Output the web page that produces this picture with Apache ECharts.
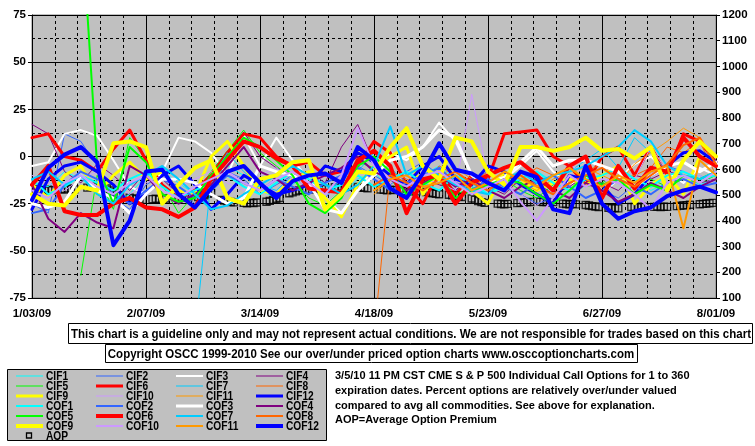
<!DOCTYPE html>
<html><head><meta charset="utf-8">
<script src="https://cdn.jsdelivr.net/npm/echarts@6/dist/echarts.min.js"></script>
<style>html,body{margin:0;padding:0;background:#fff}#c{width:755px;height:446px}</style>
</head><body><div id="c"></div>
<script>
// ---- data ----
const days = [0,5,10,15,20,25,30,35,40,45,50,55,60,65,70,75,80,85,90,95,100,105,110,115,120,125,130,135,140,145,150,155,160,165,170,175,180,185,190,195,200,205,210];
const dateLabels = ['1/03/09','2/07/09','3/14/09','4/18/09','5/23/09','6/27/09','8/01/09'];
const seriesNames = ['CIF1','CIF2','CIF3','CIF4','CIF5','CIF6','CIF7','CIF8','CIF9','CIF10','CIF11','CIF12',
                     'COF1','COF2','COF3','COF4','COF5','COF6','COF7','COF8','COF9','COF10','COF11','COF12'];
const n = null;
const CIF1 = [-14,-16,-8,-12,-18, -25,-20,-10,-8,-14, -20,-12,-5,-10,-18, -22,-15,-8,-14,-20, -12,-8,-18,-20,-10, -5,-12,-16,-20,-14, -8,-12,-18,-22,-15, -10,-5,-12,-18,-14, -10,-15,-12];
const CIF2 = [-25,-30,12,8,-5, -22,-28,-15,-10,-18, -25,-15,-8,-12,-20, -15,-10,-18,-22,-12, -5,-10,-15,-8,-3, -10,-18,-12,-8,-15, -20,-25,-22,-15,-10, -18,-22,-15,-10,-5, -8,-12,-10];
const CIF3 = [-5,-3,12,14,11, -2,-16,-20,-8,10, 8,2,-10,11,-5, 10,-2,-12,-22,-30, -18,-6,2,-2,5, 18,8,-10,-16,-12, -5,3,-8,-15,-10, -20,-12,-4,0,-8, -14,-6,-10];
const CIF4 = [17,12,-8,-14,-4, -10,-18,-8,-12,-20, -22,-15,2,13,0, -6,-10,-8,-14,5, 17,-4,-10,-14,-12, -15,-18,-10,-16,-20, -12,-14,-20,-16,-10, -14,-18,-10,-12,-8, -10,-14,-12];
const CIF5 = [n,n,n,-63,-10, -28,10,-2,-15,-30, -20,-8,3,14,2, -5,-12,-22,-26,-18, -3,-6,-12,-22,-16, -14,-20,-17,-14,-12, -18,-22,-15,-12,-16, -14,-10,-15,-12,-16, -12,-14,-10];
const CIF6 = [10,12,0,-2,-8, 4,14,-2,-15,-22, -18,-10,2,12,10, 0,-5,-3,-10,-8, -5,8,2,-15,-25, -8,-20,-10,-12,12, 13,14,0,-5,-15, 0,5,-10,5,-10, 12,8,-3];
const CIF7 = [n,n,n,n,n, n,n,n,n,n, -95,-12,2,-8,-15, -18,-10,-14,-20,-12, -8,2,-6,-14,-18, -12,-8,-16,-20,-10, -4,-10,-14,-8,-2, 4,-6,10,2,-8, -12,-10,-14];
const CIF8 = [n,n,n,n,n, n,n,n,n,n, n,n,n,n,n, n,n,n,n,n, n,-95,-8,-12,-15, -5,-10,-14,-8,-18, -12,-6,-10,-15,-8, -4,-12,-10,-6,5, 2,8,-10];
const CIF9 = [-15,-22,-10,-5,-20, -10,-3,-12,-8,-18, -20,0,8,-5,-18, -20,-12,-8,-22,-32, -15,-5,0,5,-20, -8,-15,-18,-25,-8, -12,-18,-14,-12,-15, -10,-5,-25,-15,-10, -20,0,-5];
const CIF10 = [-10,-14,-18,-12,-8, -15,-20,-14,-10,-16, -12,-8,-14,-18,-10, -6,-12,-16,-10,-14, -8,-12,-14,-10,-12, -14,-18,33,-12,-16, -20,-26,-18,-4,-10, -15,-8,-12,5,-8, -12,-10,-14];
const CIF11 = [n,n,n,n,n, n,n,n,n,n, n,n,n,n,n, n,n,n,n,n, n,-20,-12,-8,-14, -10,-6,-12,-16,-10, -14,-18,-12,-8,-6, -10,-14,-4,2,8, 15,10,-6];
const CIF12 = [-28,-12,-5,-3,-8, -15,-25,-20,-10,-5, -15,-28,-20,-10,-15, -20,-18,-15,-5,-8, 2,-3,-10,-15,-5, 0,-12,-15,-5,-8, -15,-20,-25,-10,-12, -15,-25,-20,-10,-5, 2,3,-3];
const COF1 = [-12,-20,-16,-10,-14, -18,-12,-8,-16,-22, -18,-14,-10,-16,-20, -14,-8,-12,-18,-15, -10,-16,-12,-8,-14, -18,-10,-14,-20,-16, -12,-8,-14,-18,-12, -10,-6,-12,-16,-10, -8,-12,-10];
const COF2 = [-30,-28,-15,-8,-12, -20,-25,-18,-12,-16, -22,-18,-10,-14,-18, -12,-16,-20,-14,-10, -6,-12,-18,-14,-10, -6,-14,-18,-12,-16, -20,-14,-10,-16,-22, -18,-12,-16,-20,-14, -12,-16,-14];
const COF3 = [-25,-27,-24,-10,-18, -22,-30,-20,-12,-12, -14,-20,-25,-22,-5, -8,-10,-14,-28,-30, -18,-10,-2,0,5, 14,10,-10,-14,-11, -3,5,-5,-2,-2, -5,-8,-16,-10,-5, -3,-8,-3];
const COF4 = [-15,-33,-40,-30,-35, -38,-5,-10,-20,-25, -20,-15,-5,5,-8, -12,-18,-14,-10,-6, 0,-8,-12,-18,-14, -10,-16,-12,-18,-22, -16,-12,-18,-22,-14, -18,-24,-20,-14,-18, -22,-16,-12];
const COF5 = [n,n,n,130,-5, -25,5,-3,-20,-24, -22,-10,0,10,5, -2,-10,-25,-30,-22, -5,0,-8,-20,-15, -10,-22,-18,-15,-12, -14,-20,-25,-18,-10, -15,-12,-20,-15,-18, -10,-12,-8];
const COF6 = [-15,-5,-29,-31,-31, -25,-22,-27,-28,-32, -27,-12,-2,8,5, -1,-5,-17,-18,-19, -2,3,-5,-30,-12, -10,-25,-14,-10,-6, -3,-10,-18,-5,0, -22,-5,-17,-6,-8, 10,0,-5];
const COF7 = [-12,-8,-15,-10,-20, -25,-15,-10,-5,-12, -20,-28,-26,-20,-15, -10,-5,-10,-15,-20, -15,-5,16,-10,-5, -10,-15,-18,-20,-12, -8,-14,-10,-8,-5, 0,5,14,8,-5, -10,-12,-8];
const COF8 = [n,n,n,n,n, n,n,n,n,n, n,n,n,n,n, n,n,n,n,n, n,-15,-10,-14,-18, -12,-8,-14,-18,-12, -10,-16,-20,-14,-10, -6,-12,-16,-10,-4, 6,10,-4];
const COF9 = [-20,-25,-26,-16,-18, 7,8,5,-25,-15, -6,-2,-22,-25,-12, -10,-3,-2,-28,-20, -8,-9,5,15,-5, -12,10,8,-8,-15, 5,5,3,5,10, 3,4,-1,5,-18, -2,8,0];
const COF10 = [-18,-22,-14,-10,-16, -20,-14,-10,-18,-22, -16,-12,-8,-14,-18, -12,-8,-14,-20,-10, 15,-5,-12,-16,-10, -8,-14,-20,-16,-12, -24,-34,-22,-10,-16, -12,-14,-20,-28,-14, -10,-14,-8];
const COF11 = [n,n,n,n,n, n,n,n,n,n, n,n,n,n,n, n,n,n,n,n, n,-18,-12,-10,-16, -14,-10,-18,-14,-8, -12,-16,-10,-6,-12, -16,-10,-14,-8,-5, -38,-2,-10];
const COF12 = [-23,-6,1,5,-3, -47,-34,-8,-7,-20, -27,-17,-8,-5,-14, -22,-13,-10,-9,-14, 5,-2,-17,-22,-9, 7,-7,-9,-14,-18, -8,-11,-28,-30,-5, -25,-33,-29,-27,-21, -18,-16,-19];
const seriesValues = [CIF1,CIF2,CIF3,CIF4,CIF5,CIF6,CIF7,CIF8,CIF9,CIF10,CIF11,CIF12,
                      COF1,COF2,COF3,COF4,COF5,COF6,COF7,COF8,COF9,COF10,COF11,COF12];
// Average option premium, one value per weekday (Mon..Fri), weeks starting 1/05/09
const aopWeeks = [
 [-17.5,-17.8,-18,-17.6,-17.9],[-17.2,-17.5,-17,-17.3,-17.4],[n,-16.5,-16,-16.2,-16.4],[-17,-18,-19,-20,-20.5],
 [-21.8,-22.2,-22.5,-22.8,-23],[-22.6,-22.4,-22.8,-22.5,-22.3],[n,-22,-21.8,-21.5,-21.2],[-21.5,-21,-20.5,-19.8,-19.3],
 [-23,-23.4,-23.8,-24.1,-24.3],[-24.6,-24.8,-24.5,-24.7,-24.4],[-24,-23.5,-23,-22.4,-22],[-19.5,-19,-18.5,-18,-17.7],
 [-17.4,-17.2,-17,-17.3,-17.1],[-16.3,-16.1,-16,-16.2,-16.1],[-16.2,-16.4,-16.6,-16.8,n],[-17.5,-17.7,-17.9,-17.6,-17.8],
 [-18.1,-18.3,-18.4,-18.2,-18.5],[-18.8,-19.2,-19.5,-19.8,-20],[-20.3,-20.6,-20.9,-21.2,-21.5],[-22.3,-23,-23.6,-24.2,-24.6],
 [n,-25,-25.2,-25.3,-25.1],[-24.7,-24.5,-24.3,-24.2,-24.1],[-24,-24.2,-24.1,-24.3,-24.2],[-25,-25.2,-25.3,-25.1,-25.4],
 [-25.7,-26,-26.3,-26.5,-26.8],[-27.2,-27.4,-27.3,-27.5,n],[-26.8,-26.7,-26.9,-26.6,-26.8],[-26.7,-26.5,-26.8,-26.6,-26.7],
 [-26.3,-26.1,-25.9,-25.8,-25.6],[-25.3,-25.1,-24.9,-24.8,-24.6]
];
const noteLines = ['3/5/10 11 PM CST CME S & P 500 Individual Call Options for 1 to 360',
 'expiration dates. Percent options are relatively over/under valued',
 'compared to avg all commodities. See above for explanation.',
 'AOP=Average Option Premium'];
const disclaimer = 'This chart is a guideline only and may not represent actual conditions. We are not responsible for trades based on this chart';
const copyright = 'Copyright OSCC 1999-2010 See our over/under priced option charts www.osccoptioncharts.com';

// ---- styles ----
const lineColors = ['#00ffff','#3366ff','#ffffff','#800080','#00ff00','#ff0000','#00ccff','#ff6600','#ffff00','#cc99ff','#ff9900','#0000ff'];
const cifWidths = [1,1,2,1,1,3,1,1,3,1,1,3];
const cofWidths = [2,2,3,2,2,4,2,2,4,2,2,4];
const SANS = "'Liberation Sans',Arial,sans-serif";

const series = seriesNames.map((name, k) => ({
  name, type: 'line', yAxisIndex: 0, symbol: 'none', animation: false,
  connectNulls: false, clip: true,
  lineStyle: { color: lineColors[k % 12], width: k < 12 ? cifWidths[k] : cofWidths[k - 12], join: 'round', cap: 'round' },
  itemStyle: { color: lineColors[k % 12] },
  data: days.map((d, i) => [d, seriesValues[k][i]])
}));
const aopData = [];
aopWeeks.forEach((wk, w) => wk.forEach((v, d) => { if (v !== null) aopData.push([2 + 7 * w + d, v]); }));
series.push({
  name: 'AOP', type: 'scatter', yAxisIndex: 0, symbol: 'rect', symbolSize: 7, animation: false,
  itemStyle: { color: 'rgba(0,0,0,0)', borderColor: '#000', borderWidth: 1.4 },
  data: aopData
});

// custom legend & text boxes
function txt(x, y, text, font, align, sx) {
  return { type: 'text', x, y, scaleX: sx || 1, style: { text, font, fill: '#000', align, verticalAlign: 'middle', textAlign: align, textVerticalAlign: 'middle' } };
}
const graphic = [];
graphic.push({ type: 'rect', shape: { x: 68.5, y: 323.5, width: 684, height: 20 }, style: { fill: '#fff', stroke: '#000', lineWidth: 1 } });
graphic.push(txt(411, 334, disclaimer, 'bold 13px ' + SANS, 'center', 0.885));
graphic.push({ type: 'rect', shape: { x: 105.5, y: 344.5, width: 532, height: 18 }, style: { fill: '#fff', stroke: '#000', lineWidth: 1 } });
graphic.push(txt(371, 354, copyright, 'bold 13px ' + SANS, 'center', 0.885));
noteLines.forEach((t, i) => graphic.push(txt(335, 376 + i * 14.8, t, 'bold 11px ' + SANS, 'left', 1)));
graphic.push({ type: 'rect', shape: { x: 7.5, y: 369.5, width: 319, height: 71 }, style: { fill: '#c0c0c0', stroke: '#000', lineWidth: 1 } });
seriesNames.forEach((name, k) => {
  const col = k % 4, row = Math.floor(k / 4);
  const x0 = 16 + col * 80, y0 = 376 + row * 10;
  graphic.push({ type: 'line', shape: { x1: x0, y1: y0, x2: x0 + 27, y2: y0 }, style: { stroke: lineColors[k % 12], lineWidth: k < 12 ? cifWidths[k] : cofWidths[k - 12] } });
  graphic.push(txt(x0 + 30, y0 + 0.5, name, 'bold 12px ' + SANS, 'left', 0.85));
});
graphic.push({ type: 'rect', shape: { x: 26.5, y: 433, width: 5, height: 5 }, style: { fill: 'none', stroke: '#000', lineWidth: 1.3 } });
graphic.push(txt(46, 436.5, 'AOP', 'bold 12px ' + SANS, 'left', 0.85));

const axisFont = { fontFamily: SANS, fontWeight: 'bold', fontSize: 11.5, color: '#000' };
const option = {
  animation: false,
  backgroundColor: '#ffffff',
  grid: { left: 32, right: 39, top: 15, bottom: 148, show: true, backgroundColor: '#c0c0c0', borderColor: '#808080', borderWidth: 1 },
  xAxis: {
    type: 'value', min: 0, max: 210, interval: 35,
    axisLine: { show: true, onZero: false, lineStyle: { color: '#000', width: 1 } },
    axisTick: { show: false },
    axisLabel: Object.assign({ margin: 10, formatter: v => dateLabels[Math.round(v / 35)] || '' }, axisFont),
    splitLine: { show: true, lineStyle: { color: '#000', width: 1 } },
    minorTick: { show: false, splitNumber: 5 },
    minorSplitLine: { show: true, lineStyle: { color: '#000', width: 1, type: [3, 3] } }
  },
  yAxis: [{
    type: 'value', min: -75, max: 75, interval: 25, position: 'left',
    axisLine: { show: true, onZero: false, lineStyle: { color: '#000', width: 1 } },
    axisTick: { show: true, inside: false, length: 4, lineStyle: { color: '#000' } },
    axisLabel: Object.assign({ margin: 6, formatter: v => String(v) }, axisFont),
    splitLine: { show: true, lineStyle: { color: '#000', width: 1 } },
    minorTick: { show: false, splitNumber: 2 },
    minorSplitLine: { show: true, lineStyle: { color: '#000', width: 1, type: [3, 3] } }
  }, {
    type: 'value', min: 100, max: 1200, interval: 100, position: 'right',
    axisLine: { show: true, onZero: false, lineStyle: { color: '#000', width: 1 } },
    axisTick: { show: true, inside: false, length: 4, lineStyle: { color: '#000' } },
    axisLabel: Object.assign({ margin: 6, formatter: v => String(v) }, axisFont),
    splitLine: { show: false }
  }],
  series,
  graphic
};
const chart = echarts.init(document.getElementById('c'), null, { renderer: 'canvas' });
chart.setOption(option);
</script></body></html>
